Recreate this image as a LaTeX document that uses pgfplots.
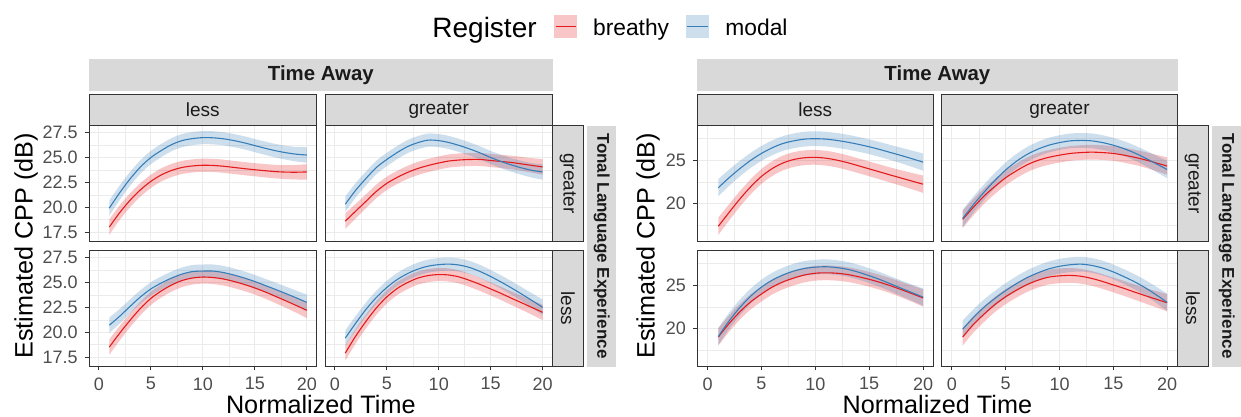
\documentclass[border=0pt]{standalone}
\usepackage{fontspec}
\setmainfont{Liberation Sans}
\usepackage{pgfplots}
\usepackage{pgfplotstable}
\pgfplotsset{compat=1.18}
\usepgfplotslibrary{fillbetween}
\definecolor{cred}{HTML}{E41A1C}
\definecolor{cblue}{HTML}{377EB8}
\definecolor{g20}{HTML}{333333}
\definecolor{g30}{HTML}{4D4D4D}
\definecolor{g85}{HTML}{D9D9D9}
\definecolor{g92}{HTML}{EBEBEB}
\definecolor{g10}{HTML}{1A1A1A}

% t = normalized time, br = breathy, mo = modal, e = half width of band
\pgfplotstableread{
t br mo e
1 18.0 19.9 0.78
2 19.45 21.45 0.73
3 20.7 22.85 0.70
4 21.75 24.05 0.68
5 22.6 25.0 0.67
6 23.25 25.7 0.66
7 23.7 26.3 0.66
8 24.0 26.7 0.66
9 24.15 26.9 0.66
10 24.22 27.0 0.66
11 24.2 26.98 0.66
12 24.12 26.88 0.66
13 24.0 26.7 0.66
14 23.88 26.47 0.66
15 23.77 26.2 0.66
16 23.67 25.93 0.67
17 23.58 25.68 0.68
18 23.53 25.48 0.70
19 23.52 25.33 0.73
20 23.55 25.25 0.78
}\LTL
\pgfplotstableread{
t br mo e
1 18.6 20.3 0.78
2 19.6 21.7 0.73
3 20.6 22.9 0.70
4 21.6 24.0 0.68
5 22.4 24.8 0.67
6 23.0 25.5 0.66
7 23.5 26.1 0.66
8 23.9 26.5 0.66
9 24.2 26.75 0.66
10 24.45 26.7 0.66
11 24.65 26.5 0.66
12 24.75 26.2 0.66
13 24.8 25.85 0.66
14 24.8 25.45 0.66
15 24.7 25.0 0.66
16 24.6 24.6 0.67
17 24.5 24.25 0.68
18 24.35 23.95 0.70
19 24.2 23.7 0.73
20 24.05 23.55 0.78
}\LTR
\pgfplotstableread{
t br mo e
1 18.5 20.7 0.78
2 19.9 21.6 0.73
3 21.2 22.6 0.70
4 22.4 23.55 0.68
5 23.4 24.35 0.67
6 24.15 24.95 0.66
7 24.75 25.45 0.66
8 25.2 25.85 0.66
9 25.45 26.1 0.66
10 25.55 26.15 0.66
11 25.5 26.15 0.66
12 25.35 26.0 0.66
13 25.1 25.75 0.66
14 24.8 25.45 0.66
15 24.45 25.1 0.66
16 24.05 24.7 0.67
17 23.6 24.3 0.68
18 23.15 23.88 0.70
19 22.68 23.45 0.73
20 22.2 23.0 0.78
}\LBL
\pgfplotstableread{
t br mo e
1 17.9 19.4 0.78
2 19.6 20.9 0.73
3 21.1 22.3 0.70
4 22.45 23.5 0.68
5 23.55 24.5 0.67
6 24.4 25.3 0.66
7 25.0 25.9 0.66
8 25.45 26.35 0.66
9 25.7 26.65 0.66
10 25.8 26.8 0.66
11 25.75 26.85 0.66
12 25.55 26.75 0.66
13 25.2 26.5 0.66
14 24.8 26.1 0.66
15 24.35 25.6 0.66
16 23.9 25.05 0.67
17 23.42 24.45 0.68
18 22.95 23.82 0.70
19 22.47 23.17 0.73
20 22.0 22.5 0.78
}\LBR
\pgfplotstableread{
t br mo e
1 17.4 21.85 1.00
2 19.0 23.0 0.94
3 20.55 24.05 0.90
4 21.95 25.0 0.87
5 23.15 25.8 0.86
6 24.05 26.45 0.85
7 24.7 26.95 0.85
8 25.1 27.25 0.85
9 25.3 27.45 0.85
10 25.35 27.5 0.85
11 25.25 27.45 0.85
12 25.03 27.3 0.85
13 24.73 27.1 0.85
14 24.38 26.85 0.85
15 24.02 26.57 0.85
16 23.66 26.25 0.86
17 23.3 25.9 0.87
18 22.95 25.55 0.90
19 22.6 25.18 0.94
20 22.25 24.8 1.00
}\RTL
\pgfplotstableread{
t br mo e
1 18.2 18.3 1.00
2 19.6 19.9 0.94
3 20.9 21.35 0.90
4 22.0 22.7 0.87
5 23.0 23.9 0.86
6 23.8 24.9 0.85
7 24.5 25.7 0.85
8 25.0 26.3 0.85
9 25.35 26.75 0.85
10 25.6 27.05 0.85
11 25.8 27.25 0.85
12 25.9 27.3 0.85
13 25.95 27.25 0.85
14 25.9 27.05 0.85
15 25.8 26.75 0.85
16 25.6 26.35 0.86
17 25.35 25.85 0.87
18 25.05 25.25 0.90
19 24.7 24.6 0.94
20 24.35 23.95 1.00
}\RTR
\pgfplotstableread{
t br mo e
1 19.05 19.1 1.00
2 20.6 20.9 0.94
3 21.95 22.45 0.90
4 23.1 23.75 0.87
5 24.0 24.8 0.86
6 24.8 25.6 0.85
7 25.4 26.2 0.85
8 25.85 26.65 0.85
9 26.2 26.95 0.85
10 26.4 27.1 0.85
11 26.45 27.15 0.85
12 26.4 27.05 0.85
13 26.25 26.85 0.85
14 26.0 26.52 0.85
15 25.7 26.12 0.85
16 25.35 25.67 0.86
17 24.95 25.17 0.87
18 24.5 24.65 0.90
19 24.03 24.15 0.94
20 23.55 23.65 1.00
}\RBL
\pgfplotstableread{
t br mo e
1 19.05 19.95 1.00
2 20.5 21.3 0.94
3 21.7 22.5 0.90
4 22.8 23.5 0.87
5 23.7 24.4 0.86
6 24.45 25.2 0.85
7 25.1 25.9 0.85
8 25.6 26.45 0.85
9 25.95 26.9 0.85
10 26.1 27.2 0.85
11 26.15 27.38 0.85
12 26.05 27.45 0.85
13 25.8 27.3 0.85
14 25.45 27.0 0.85
15 25.05 26.55 0.85
16 24.65 26.0 0.86
17 24.22 25.4 0.87
18 23.8 24.7 0.90
19 23.4 23.9 0.94
20 23.0 23.05 1.00
}\RBR

\pgfplotsset{
 panel/.style={
  scale only axis, anchor=north west, height=57.65pt,
  xmin=-0.95, xmax=20.95, xtick={0,5,10,15,20}, minor xtick={2.5,7.5,12.5,17.5},
  xticklabels={0,5,10,15,20},
  grid=both,
  major grid style={color=g92, line width=0.5pt},
  minor grid style={color=g92, line width=0.25pt},
  axis line style={color=g20, line width=0.5pt},
  tick style={color=g20, line width=0.5pt},
  tick align=outside, major tick length=2.2pt, minor tick length=0pt,
  xtick pos=bottom, ytick pos=left,
  ticklabel style={font=\fontsize{9pt}{10pt}\selectfont, text=g30},
  /pgf/number format/assume math mode=true,
 },
 lgy/.style={ymin=16.6, ymax=28.2, ytick={17.5,20,22.5,25,27.5},
  minor ytick={18.75,21.25,23.75,26.25}, yticklabels={17.5,20.0,22.5,25.0,27.5}},
 rgy/.style={ymin=15.7, ymax=29.0, ytick={20,25},
  minor ytick={17.5,22.5,27.5}, yticklabels={20,25}},
 noxlab/.style={xticklabels={}, xtick style={draw=none}},
 noylab/.style={yticklabels={}, ytick style={draw=none}},
}

\newcommand{\panel}[5]{%
\begin{axis}[panel, at={(#1,#2)}, width=#3, #4]
 \addplot[name path=rh, draw=none, smooth] table[x=t, y expr=\thisrow{br}+\thisrow{e}]{#5};
 \addplot[name path=rl, draw=none, smooth] table[x=t, y expr=\thisrow{br}-\thisrow{e}]{#5};
 \addplot[fill=cred, fill opacity=0.25, draw=none] fill between[of=rh and rl];
 \addplot[name path=bh, draw=none, smooth] table[x=t, y expr=\thisrow{mo}+\thisrow{e}]{#5};
 \addplot[name path=bl, draw=none, smooth] table[x=t, y expr=\thisrow{mo}-\thisrow{e}]{#5};
 \addplot[fill=cblue, fill opacity=0.25, draw=none] fill between[of=bh and bl];
 \addplot[cred, line width=0.55pt, smooth] table[x=t, y=br]{#5};
 \addplot[cblue, line width=0.55pt, smooth] table[x=t, y=mo]{#5};
\end{axis}}

\newcommand{\fs}[1]{\fontsize{#1}{#1}\selectfont}

\begin{document}
\begin{tikzpicture}
\begin{scope}[x=0.5pt, y=-0.5pt]
 \useasboundingbox (0,0) rectangle (1241,417);
 % legend
 \node[anchor=base west, inner sep=0pt, font=\fs{14pt}] at (432,37.3) {Register};
 \fill[cred, opacity=0.25] (554.3,15) rectangle (577.3,38.3);
 \draw[cred, line width=0.55pt] (555.5,26.7) -- (576,26.7);
 \node[anchor=base west, inner sep=0pt, font=\fs{11.4pt}] at (592.7,36) {breathy};
 \fill[cblue, opacity=0.25] (686,15) rectangle (709,38.3);
 \draw[cblue, line width=0.55pt] (687.2,26.7) -- (707.8,26.7);
 \node[anchor=base west, inner sep=0pt, font=\fs{11.4pt}] at (725,36) {modal};

 % left group strips
 \fill[g85] (89,59) rectangle (552.7,91);
 \node[font=\fs{10.2pt}\bfseries, text=g10] at (320.85,75) {Time Away};
 \filldraw[fill=g85, draw=g20, line width=0.5pt] (89,94.3) rectangle (316.7,125.7);
 \node[font=\fs{9.5pt}, text=g10] at (202.85,110) {less};
 \filldraw[fill=g85, draw=g20, line width=0.5pt] (325,94.3) rectangle (552.5,125.7);
 \node[font=\fs{9.5pt}, text=g10] at (438.75,110) {greater};
 \filldraw[fill=g85, draw=g20, line width=0.5pt] (552.5,125.7) rectangle (583.3,241);
 \node[font=\fs{9.5pt}, text=g10, rotate=-90] at (567.9,183.35) {greater};
 \filldraw[fill=g85, draw=g20, line width=0.5pt] (552.5,250.7) rectangle (583.3,366);
 \node[font=\fs{9.5pt}, text=g10, rotate=-90] at (567.9,308.35) {less};
 \fill[g85] (587.3,125.7) rectangle (616,366.7);
 \node[font=\fs{8.5pt}\bfseries, text=g10, rotate=-90] at (601.65,246.2) {Tonal Language Experience};
 \node[font=\fs{12.6pt}, rotate=90] at (26,246) {Estimated CPP (dB)};
 \node[font=\fs{12.6pt}, anchor=base] at (320.8,413) {Normalized Time};

 % right group strips
 \fill[g85] (697.3,59) rectangle (1177.5,91);
 \node[font=\fs{10.2pt}\bfseries, text=g10] at (937.4,75) {Time Away};
 \filldraw[fill=g85, draw=g20, line width=0.5pt] (697.3,94.3) rectangle (933.3,125.7);
 \node[font=\fs{9.5pt}, text=g10] at (815.3,110) {less};
 \filldraw[fill=g85, draw=g20, line width=0.5pt] (941.7,94.3) rectangle (1177.3,125.7);
 \node[font=\fs{9.5pt}, text=g10] at (1059.5,110) {greater};
 \filldraw[fill=g85, draw=g20, line width=0.5pt] (1177.3,125.7) rectangle (1208.5,241);
 \node[font=\fs{9.5pt}, text=g10, rotate=-90] at (1192.9,183.35) {greater};
 \filldraw[fill=g85, draw=g20, line width=0.5pt] (1177.3,250.7) rectangle (1208.5,366);
 \node[font=\fs{9.5pt}, text=g10, rotate=-90] at (1192.9,308.35) {less};
 \fill[g85] (1212.3,125.7) rectangle (1241,366.7);
 \node[font=\fs{8.5pt}\bfseries, text=g10, rotate=-90] at (1226.65,246.2) {Tonal Language Experience};
 \node[font=\fs{12.6pt}, rotate=90] at (648,246) {Estimated CPP (dB)};
 \node[font=\fs{12.6pt}, anchor=base] at (937.3,413) {Normalized Time};
\end{scope}

% left group panels
\panel{44.5pt}{-62.85pt}{113.85pt}{lgy, noxlab}{\LTL}
\panel{162.5pt}{-62.85pt}{113.75pt}{lgy, noxlab, noylab}{\LTR}
\panel{44.5pt}{-125.35pt}{113.85pt}{lgy}{\LBL}
\panel{162.5pt}{-125.35pt}{113.75pt}{lgy, noylab}{\LBR}
% right group panels
\panel{348.65pt}{-62.85pt}{118pt}{rgy, noxlab}{\RTL}
\panel{470.85pt}{-62.85pt}{117.8pt}{rgy, noxlab, noylab}{\RTR}
\panel{348.65pt}{-125.35pt}{118pt}{rgy}{\RBL}
\panel{470.85pt}{-125.35pt}{117.8pt}{rgy, noylab}{\RBR}
\end{tikzpicture}
\end{document}
